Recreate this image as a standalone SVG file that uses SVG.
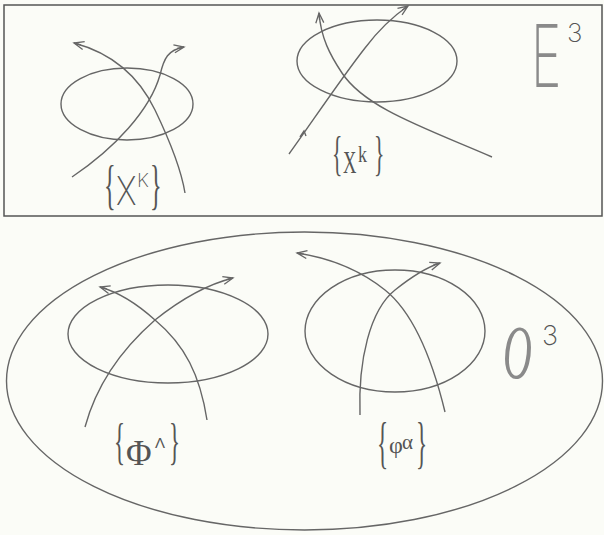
<svg xmlns="http://www.w3.org/2000/svg" width="604" height="535" viewBox="0 0 604 535">
<defs>
<marker id="arr" viewBox="-11 -5 13 10" refX="0" refY="0" markerWidth="13" markerHeight="10" markerUnits="userSpaceOnUse" orient="auto">
<path d="M-10,-4 L0,0 L-10,4 M-7,0 L0,0" fill="none" stroke="#666" stroke-width="1.3"/>
</marker>
<style>
.ln{fill:none;stroke:#666;stroke-width:1.4}
.bd{fill:none;stroke:#555;stroke-width:1.5}
.ser{font-family:"Liberation Serif",serif;fill:#555}
.san{font-family:Inter,"Liberation Sans",sans-serif;font-weight:200;fill:#555}
.big{fill:#8a8a8a}
</style>
</defs>
<rect width="604" height="535" fill="#fbfcf7"/>
<g id="E3-space">
<rect class="bd" x="4" y="5" width="598" height="211"/>
<text class="san big" font-size="86" font-weight="100" transform="translate(531,87) scale(0.6,1)">E</text>
<text class="san" font-size="26" x="567" y="42">3</text>
</g>
<g id="O3-space">
<ellipse class="ln" cx="304.5" cy="381" rx="298" ry="149"/>
<text class="ser big" font-size="77" font-style="italic" transform="translate(503,378) scale(0.52,1)">O</text>
<text class="san" font-size="27" x="542" y="345">3</text>
</g>
<g id="region-XK">
<ellipse class="ln" cx="127" cy="104" rx="66" ry="36"/>
<text class="ser" font-size="54" transform="translate(104,203) scale(0.45,1)">{</text>
<text class="san" font-size="40" transform="translate(116,205) scale(0.8,1)">X</text>
<text class="san" font-size="19" x="137" y="187">K</text>
<text class="ser" font-size="54" transform="translate(150,203) scale(0.45,1)">}</text>
</g>
<g id="region-xk">
<ellipse class="ln" cx="377" cy="61" rx="80" ry="41"/>
<text class="ser" font-size="48" transform="translate(332,170) scale(0.45,1)">{</text>
<text class="ser" font-size="32" transform="translate(343,173) scale(0.58,1)">X</text>
<text class="ser" font-size="24" transform="translate(358,162) scale(0.75,1)">k</text>
<text class="ser" font-size="48" transform="translate(374,170) scale(0.45,1)">}</text>
</g>
<g id="region-Phi">
<ellipse class="ln" cx="168" cy="334" rx="100" ry="49"/>
<text class="ser" font-size="51" transform="translate(114,458) scale(0.45,1)">{</text>
<text class="ser" font-size="35" x="126" y="465" fill="#444">Φ</text>
<text font-family="Liberation Sans, sans-serif" font-size="15" fill="#555" x="155" y="448">Λ</text>
<text class="ser" font-size="51" transform="translate(169,458) scale(0.45,1)">}</text>
</g>
<g id="region-phi">
<ellipse class="ln" cx="395" cy="331" rx="90" ry="61"/>
<text class="ser" font-size="58" transform="translate(377,462) scale(0.4,1)">{</text>
<text class="ser" font-size="24" x="389" y="453">φ</text>
<text class="ser" font-size="21" x="402" y="449">α</text>
<text class="ser" font-size="58" transform="translate(416,462) scale(0.4,1)">}</text>
</g>
<g id="connectors">
<path class="ln" marker-end="url(#arr)" d="M185,193 Q180,162 155,110 Q130,58 74,43"/>
<path class="ln" marker-end="url(#arr)" d="M72,177 C115,148 150,110 160,75 C164,58 168,50 184,47"/>
<path class="ln" marker-end="url(#arr)" d="M492,157 C425,128 365,108 342,73 C330,55 321,38 319,13"/>
<path class="ln" marker-end="url(#arr)" d="M289,154 C310,125 340,80 365,48 C380,28 395,15 408,6"/>
<path class="ln" d="M300,137 L304,131 L306,136"/>
<path class="ln" marker-end="url(#arr)" d="M207,420 C200,375 185,345 155,320 C135,302 118,292 100,287"/>
<path class="ln" marker-end="url(#arr)" d="M85,427 C95,390 115,355 155,320 C180,300 205,285 233,278"/>
<path class="ln" marker-end="url(#arr)" d="M445,412 C430,350 410,310 385,290 C360,270 330,258 297,253"/>
<path class="ln" marker-end="url(#arr)" d="M360,415 C358,360 370,310 395,290 C410,278 425,268 440,263"/>
</g>
</svg>
